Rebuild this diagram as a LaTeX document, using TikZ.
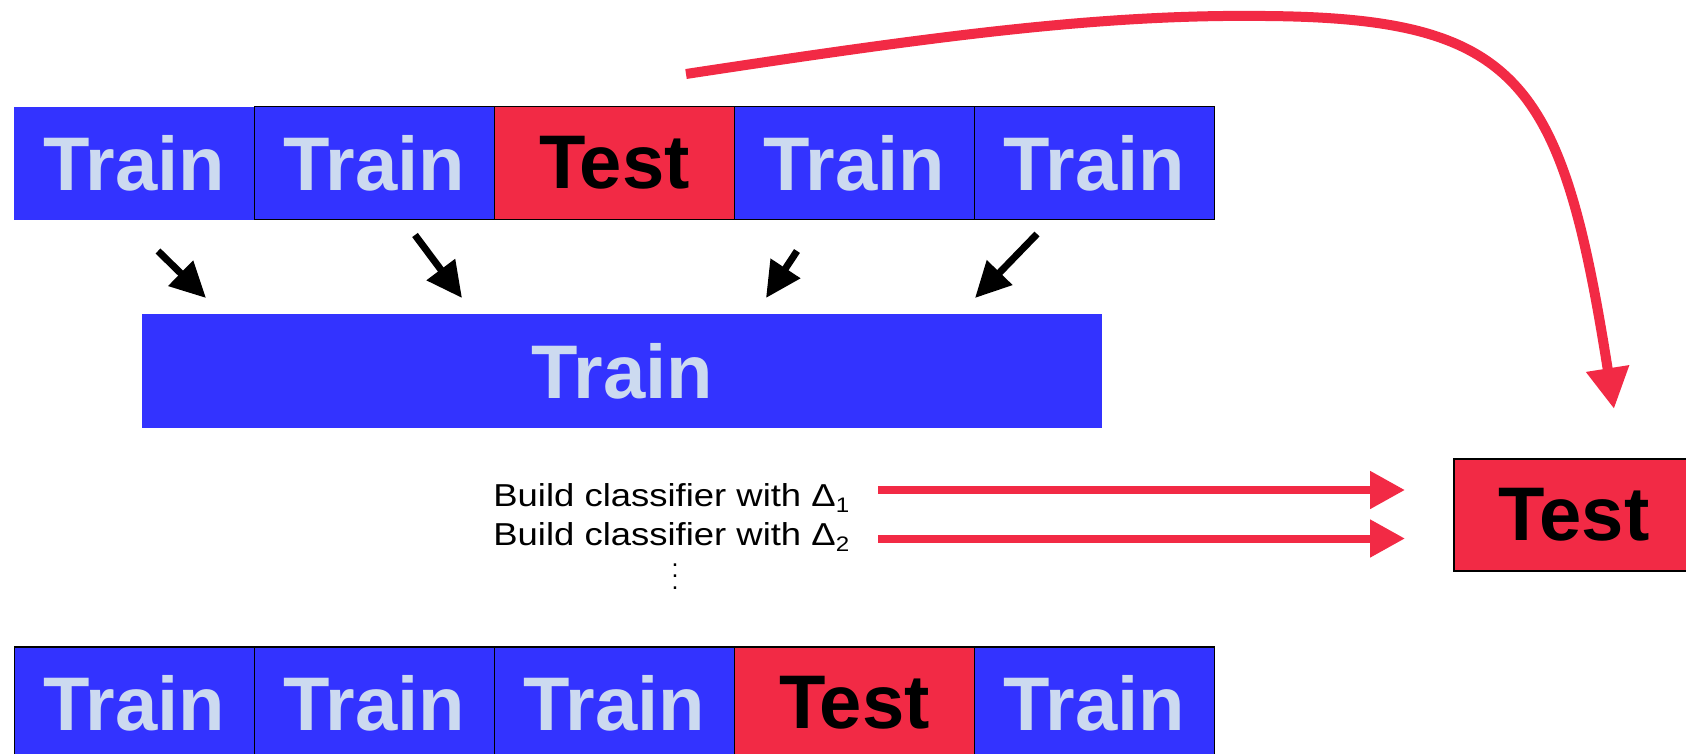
\documentclass[tikz,border=0pt]{standalone}
\usepackage{fontspec}
\setmainfont{Liberation Sans}
\newfontfamily\widesans[FakeStretch=1.15]{Liberation Sans}
\usetikzlibrary{arrows.meta}
\definecolor{cvblue}{RGB}{51,51,255}
\definecolor{cvred}{RGB}{242,42,69}
\definecolor{cvtext}{RGB}{204,218,240}
\begin{document}
\begin{tikzpicture}[x=0.5pt,y=-0.5pt,
  cell/.style={anchor=north west, inner sep=0pt, minimum width=120pt, minimum height=56.5pt,
    font=\bfseries\fontsize{38}{40}\selectfont, draw=black, line width=0.9pt},
  train/.style={cell, fill=cvblue, text=cvtext},
  test/.style={cell, fill=cvred, text=black},
  blackarrow/.style={line width=3.5pt, -{Triangle[length=17.75pt,width=17pt]}},
  redarrow/.style={draw=cvred, line width=4pt, -{Triangle[length=17.5pt,width=18pt]}},
  lbl/.style={anchor=base west, inner sep=0pt, font=\widesans\fontsize{15.85}{18}\selectfont}
]
\useasboundingbox (0,0) rectangle (1686,754);
\clip (0,0) rectangle (1686,754);

% top row
\node[train, draw=none] (t1) at (13.5,105.7) {Train};
\node[train] (t2) at (253.5,105.7) {Train};
\node[test]  (t3) at (493.5,105.7) {Test};
\node[train] (t4) at (733.5,105.7) {Train};
\node[train] (t5) at (973.5,105.7) {Train};

% merged training set
\node[train, draw=none, minimum width=480pt, minimum height=57pt] (mid) at (141.5,313.3) {Train};

% black arrows
\coordinate (a1s) at (158,251);  \coordinate (a1e) at (206,298);
\coordinate (a2s) at (415,235);  \coordinate (a2e) at (462,298);
\coordinate (a3s) at (797,251);  \coordinate (a3e) at (766,298);
\coordinate (a4s) at (1037,234); \coordinate (a4e) at (975,298);
\draw[blackarrow] (a1s) -- (a1e);
\draw[blackarrow] (a2s) -- (a2e);
\draw[blackarrow] (a3s) -- (a3e);
\draw[blackarrow] (a4s) -- (a4e);

% right test box
\node[test, minimum height=56pt] (rt) at (1453.3,458.3) {Test};

% curved red arrow
\coordinate (cs) at (686,74);
\coordinate (ce) at (1614,409);
\draw[draw=cvred, line width=5pt, -{Triangle[length=20.5pt,width=20.5pt]}]
  (cs) .. controls (936,36) and (1100,14) .. (1265,16)
       .. controls (1520,18) and (1562,80) .. (ce);

% labels
\node[lbl] (b1) at (493,506.7) {Build classifier with Δ\raisebox{-3pt}{\fontsize{10.5}{11}\selectfont 1}};
\node[lbl] (b2) at (493,545.7) {Build classifier with Δ\raisebox{-3pt}{\fontsize{10.5}{11}\selectfont 2}};
\node[anchor=south, inner sep=0pt, align=center, font=\fontsize{12.5}{5.85}\selectfont] (dots) at (675,590) {.\\.\\.};

% straight red arrows
\coordinate (r1s) at (878,490);   \coordinate (r1e) at (1405,490);
\coordinate (r2s) at (878,538.5); \coordinate (r2e) at (1405,538.5);
\draw[redarrow] (r1s) -- (r1e);
\draw[redarrow] (r2s) -- (r2e);

% bottom row
\node[train] (u1) at (13.5,645.7) {Train};
\node[train] (u2) at (253.5,645.7) {Train};
\node[train] (u3) at (493.5,645.7) {Train};
\node[test]  (u4) at (733.5,645.7) {Test};
\node[train] (u5) at (973.5,645.7) {Train};
\end{tikzpicture}
\end{document}
